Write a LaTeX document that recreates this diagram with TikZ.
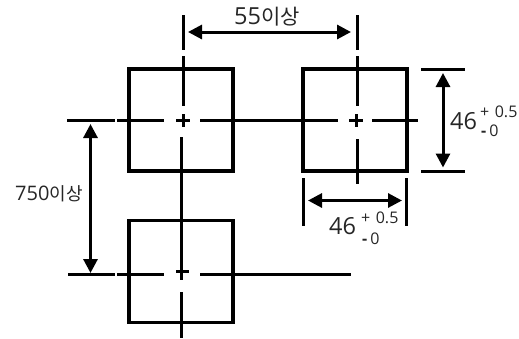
\documentclass[tikz,border=0pt]{standalone}
\usepackage{fontspec}
\setmainfont{Open Sans}
\newfontfamily\krfont{Noto Sans CJK KR}
\usetikzlibrary{arrows.meta,positioning}
\tikzset{
    panel/.style={draw,line width=3.1pt,minimum width=104pt,minimum height=102pt,inner sep=0pt},
    centerline/.style={line width=3pt},
    dimline/.style={line width=3pt},
    dimarrow/.style={line width=3pt,{Triangle[length=14pt,width=14pt]}-{Triangle[length=14pt,width=14pt]}},
    dimtext/.style={inner sep=0pt,font=\fontsize{23.5}{24}\selectfont,text=black!85},
    sidetext/.style={inner sep=0pt,font=\fontsize{20}{20}\selectfont,text=black!85},
    toltext/.style={inner sep=0pt,font=\fontsize{16}{16}\selectfont,text=black!85}
}
\newcommand{\hangulup}{\fontsize{21}{21}\krfont 이상}
\newcommand{\hangulside}{\fontsize{18}{18}\krfont 이상}
\begin{document}
\begin{tikzpicture}[x=1pt,y=-1pt]
    \useasboundingbox (0,0) rectangle (519,338);

    \node [panel] (P1) at (181,120) {};
    \node [panel] (P2) at (355,120) {};
    \node [panel] (P3) at (181,271.5) {};

    % centre lines, top row
    \coordinate (a1) at (183,15);   \coordinate (a2) at (183,50);
    \coordinate (a3) at (183,56);   \coordinate (a4) at (183,106);
    \coordinate (a5) at (181,137);  \coordinate (a6) at (181,280);
    \coordinate (a7) at (181,292);  \coordinate (a8) at (181,338);
    \coordinate (b1) at (357,15);   \coordinate (b2) at (357,50);
    \coordinate (b3) at (357,56);   \coordinate (b4) at (357,106);
    \coordinate (b5) at (357,139);  \coordinate (b6) at (357,184);
    \coordinate (c1) at (67,120);   \coordinate (c2) at (115,120);
    \coordinate (c3) at (117,120);  \coordinate (c4) at (164,120);
    \coordinate (c5) at (200,120);  \coordinate (c6) at (338,120);
    \coordinate (c7) at (372,120);  \coordinate (c8) at (418,120);
    \coordinate (d1) at (68,274);   \coordinate (d2) at (115,274);
    \coordinate (d3) at (117,274);  \coordinate (d4) at (164,274);
    \coordinate (d5) at (200,274);  \coordinate (d6) at (351,274);

    \foreach \from/\to in {a1/a2,a3/a4,a5/a6,a7/a8,b1/b2,b3/b4,b5/b6,
                           c1/c2,c3/c4,c5/c6,c7/c8,d1/d2,d3/d4,d5/d6} {
        \draw[centerline] (\from) -- (\to);
    }

    % small crosses
    \foreach \x/\y/\name in {183/120/m1,356/120/m2} {
        \draw[centerline] (\x-7,\y) -- (\x+7,\y);
        \draw[centerline] (\x,\y-6) -- (\x,\y+7);
    }
    \draw[centerline] (176,271) -- (189,271);

    % extension lines
    \coordinate (e1) at (421,69);    \coordinate (e2) at (465,69);
    \coordinate (e3) at (421,171.5); \coordinate (e4) at (465,171.5);
    \coordinate (f1) at (303.5,178); \coordinate (f2) at (303.5,226);
    \coordinate (f3) at (406.5,178); \coordinate (f4) at (406.5,226);
    \foreach \from/\to in {e1/e2,e3/e4,f1/f2,f3/f4} {
        \draw[dimline] (\from) -- (\to);
    }

    % dimension arrows
    \coordinate (g1) at (188,32);    \coordinate (g2) at (351,32);
    \coordinate (g3) at (90.5,124);  \coordinate (g4) at (90.5,273);
    \coordinate (g5) at (443,73);    \coordinate (g6) at (443,167.5);
    \coordinate (g7) at (308,200.5); \coordinate (g8) at (402,200.5);
    \foreach \from/\to in {g1/g2,g3/g4,g5/g6,g7/g8} {
        \draw[dimarrow] (\from) -- (\to);
    }

    % labels
    \node [dimtext,anchor=west] (pitchx) at (234,17) {55{\hangulup}};
    \node [sidetext,anchor=west] (pitchy) at (15,194) {750{\hangulside}};

    \node [dimtext,anchor=west] (sizey) at (450,121) {46};
    \node [toltext,anchor=west] (sizeyup) at (480,112) {+\hspace{5.5pt}0.5};
    \node [toltext,anchor=west] (sizeylo) at (481,131) {\textbf{-}\hspace{3pt}0};

    \node [dimtext,anchor=west] (sizex) at (329,226) {46};
    \node [toltext,anchor=west] (sizexup) at (361,218) {+\hspace{5.5pt}0.5};
    \node [toltext,anchor=west] (sizexlo) at (362,239) {\textbf{-}\hspace{3pt}0};
\end{tikzpicture}
\end{document}
